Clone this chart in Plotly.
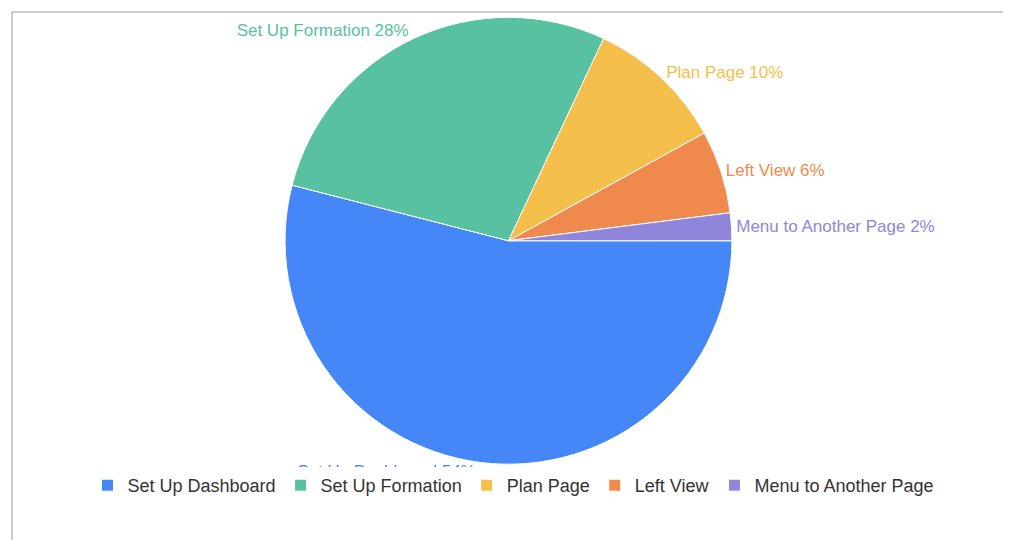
import plotly.graph_objects as go

labels = ["Set Up Dashboard", "Set Up Formation", "Plan Page", "Left View", "Menu to Another Page"]
values = [54, 28, 10, 6, 2]
colors = ["#4587f7", "#58c1a1", "#f4bf4b", "#f0894c", "#8f86db"]

fig = go.Figure(go.Pie(
    labels=labels,
    values=values,
    sort=False,
    direction="clockwise",
    rotation=90,
    marker=dict(colors=colors, line=dict(color="white", width=1)),
    texttemplate="%{label} %{percent:.0%}",
    textposition="outside",
    outsidetextfont=dict(color=colors, size=17),
    hoverinfo="label+percent",
    domain=dict(x=[0.19, 0.8], y=[0.15, 0.99]),
))

fig.update_layout(
    width=1011, height=540,
    margin=dict(l=4, r=4, t=4, b=4, autoexpand=False),
    paper_bgcolor="white",
    font=dict(family="Liberation Sans, Arial, sans-serif", size=17),
    legend=dict(orientation="h", x=0.5, xanchor="center", y=0.11, yanchor="middle",
                font=dict(size=18, color="#333"), itemwidth=30),
    shapes=[dict(type="rect", xref="paper", yref="paper", x0=0, x1=1, y0=0, y1=1,
                 line=dict(color="#999", width=1))],
)

fig.write_html("out.html")
